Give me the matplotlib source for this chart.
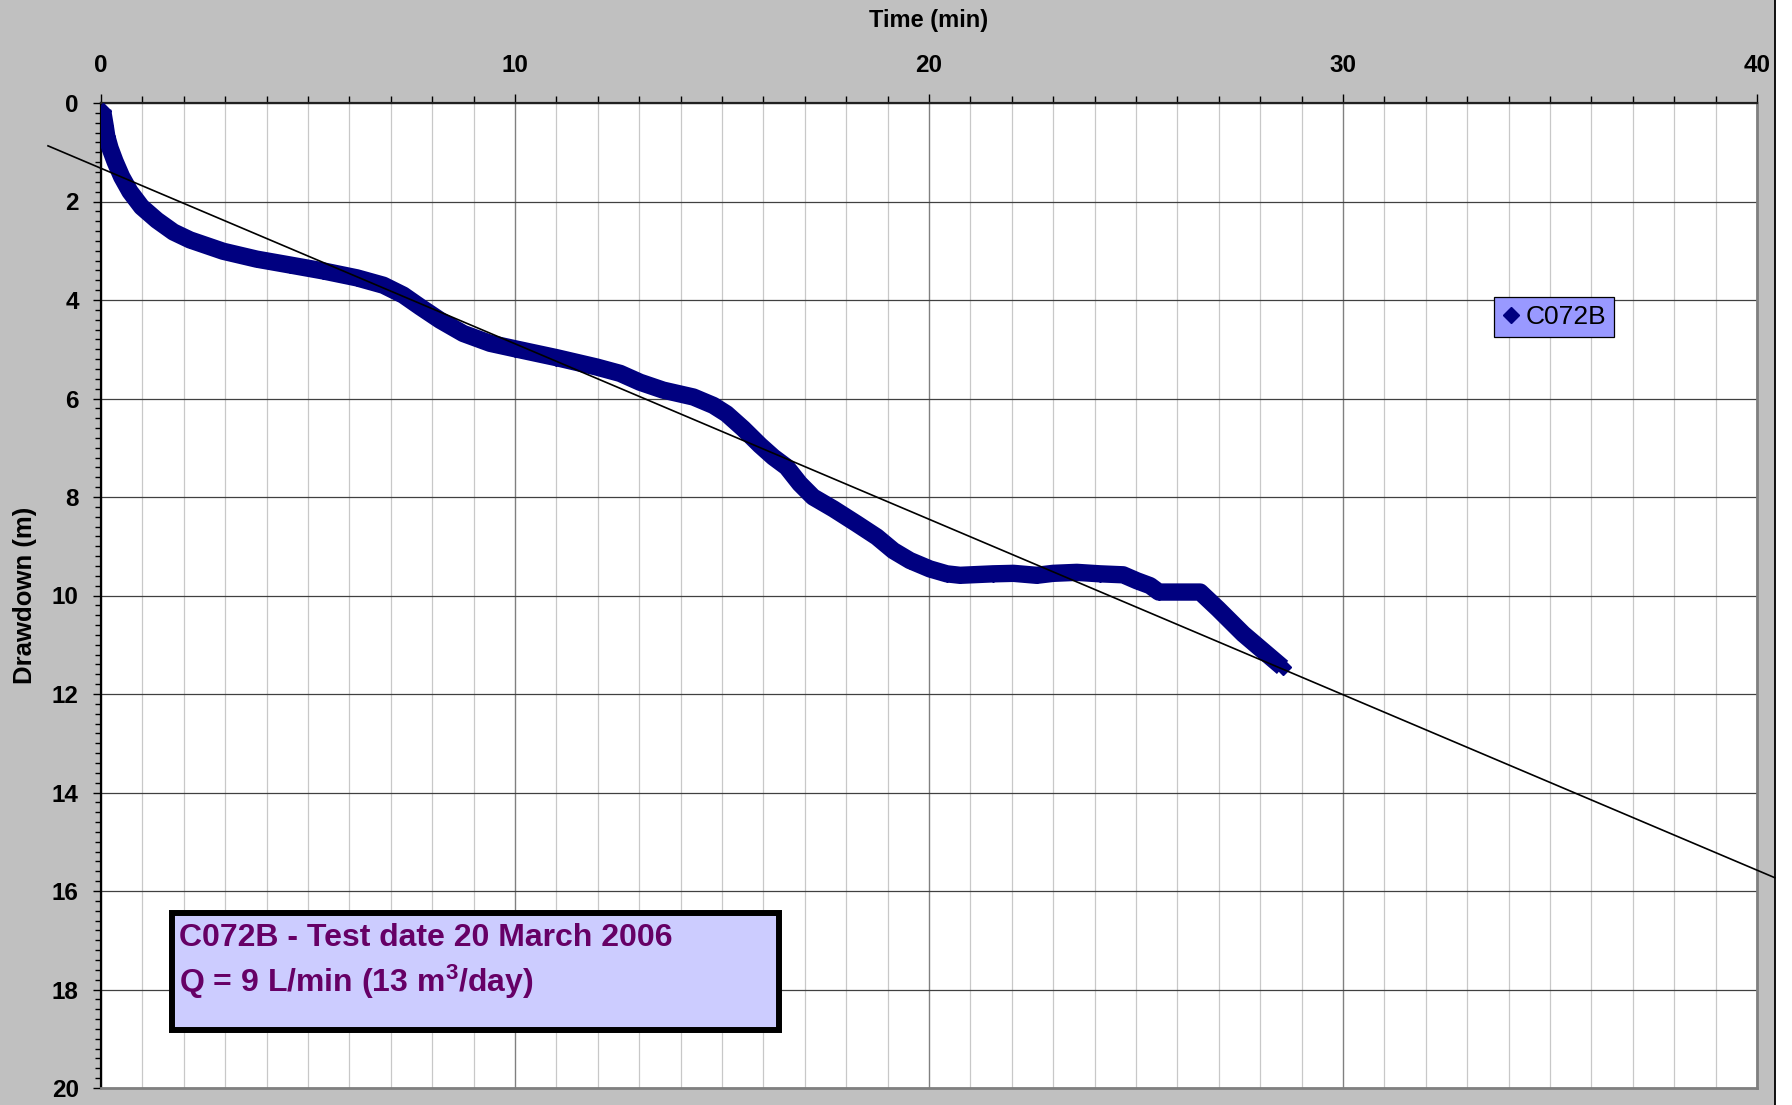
import matplotlib
matplotlib.use("Agg")
import matplotlib.pyplot as plt
from matplotlib.patches import Rectangle
from matplotlib.lines import Line2D
from matplotlib.ticker import MultipleLocator

plt.rcParams['font.family'] = ['Liberation Sans', 'DejaVu Sans']
plt.rcParams['mathtext.default'] = 'regular'

# ---- data ----
time_min = [0.04, 0.10, 0.14, 0.22, 0.34, 0.50, 0.70, 0.98, 1.35, 1.75, 2.15, 2.95,
            3.76, 4.57, 5.37, 6.18, 6.82, 7.30, 7.71, 8.19, 8.75, 9.40, 10.00, 11.00,
            11.97, 12.54, 13.02, 13.58, 14.31, 14.79, 15.11, 15.51, 15.92, 16.24, 16.56,
            16.88, 17.20, 17.69, 18.25, 18.74, 19.14, 19.54, 20.02, 20.43, 20.75, 21.55,
            22.04, 22.60, 23.00, 23.57, 24.13, 24.69, 25.02, 25.34, 25.55, 26.55, 26.98,
            27.59, 28.54]
drawdown_m = [0.16, 0.46, 0.68, 0.92, 1.19, 1.50, 1.80, 2.11, 2.38, 2.62, 2.78, 3.01,
              3.17, 3.29, 3.41, 3.55, 3.70, 3.90, 4.14, 4.41, 4.68, 4.88, 4.99, 5.17,
              5.36, 5.49, 5.67, 5.83, 5.97, 6.14, 6.31, 6.61, 6.95, 7.19, 7.39,
              7.73, 8.00, 8.24, 8.54, 8.81, 9.09, 9.29, 9.46, 9.56, 9.59, 9.56,
              9.55, 9.59, 9.55, 9.53, 9.56, 9.58, 9.70, 9.80, 9.93, 9.93, 10.27,
              10.78, 11.46]
trend_time = [-1.28, 40.43]
trend_drawdown = [0.87, 15.73]

series_label = "C072B"
x_ticks = [0, 10, 20, 30, 40]
y_ticks = [0, 2, 4, 6, 8, 10, 12, 14, 16, 18, 20]
x_title = "Time (min)"
y_title = "Drawdown (m)"
note_line1 = "C072B - Test date 20 March 2006"
note_line2 = r"Q = 9 L/min (13 m$^{3}$/day)"

# ---- figure ----
W, H = 1792, 1105
fig = plt.figure(figsize=(W / 100, H / 100), dpi=100, facecolor='white')

# gray chart area with black right border (drawn beneath the axes)
fig.patches.append(Rectangle((0, 0), 1775 / W, 1, transform=fig.transFigure,
                             facecolor='#C0C0C0', edgecolor='none', zorder=-10))
fig.lines.append(Line2D([1775 / W, 1775 / W], [0, 1], transform=fig.transFigure,
                        color='black', lw=1.3, zorder=-9))

ax = fig.add_axes([101 / W, 1 - 1088 / H, 1656 / W, 985 / H])
ax.set_facecolor('white')

navy = '#000080'
ax.plot(time_min, drawdown_m, color=navy, lw=12.5, solid_joinstyle='round',
        solid_capstyle='butt', zorder=3, label='_nolegend_')
ax.plot(time_min, drawdown_m, ls='none', marker='D', ms=8.5, color=navy,
        markeredgecolor=navy, zorder=3, label=series_label)
ax.plot(trend_time, trend_drawdown, color='black', lw=1.2, zorder=4, clip_on=False)

ax.set_xlim(0, 40)
ax.set_ylim(20, 0)

ax.xaxis.set_ticks_position('top')
ax.xaxis.set_label_position('top')
ax.set_xticks(x_ticks)
ax.set_yticks(y_ticks)
ax.xaxis.set_minor_locator(MultipleLocator(1))
ax.yaxis.set_minor_locator(MultipleLocator(0.2))

ax.tick_params(axis='x', which='major', direction='out', length=6.5, width=1.0,
               pad=12, labelsize=17.5, colors='black')
ax.tick_params(axis='x', which='minor', direction='out', length=4.8, width=1.0)
ax.tick_params(axis='y', which='major', direction='out', length=5.5, width=1.0,
               pad=10.5, labelsize=17.5)
ax.tick_params(axis='y', which='minor', direction='out', length=4.5, width=1.0)
for lbl in ax.get_xticklabels() + ax.get_yticklabels():
    lbl.set_fontweight('bold')

ax.set_xlabel(x_title, fontsize=17, fontweight='bold')
ax.xaxis.set_label_coords(0.5, 1.0775)
ax.set_ylabel(y_title, fontsize=18.5, fontweight='bold')
ax.yaxis.set_label_coords(-0.0385, 0.5)

# gridlines
ax.grid(which='minor', axis='x', color='#C8C8C8', lw=0.9, zorder=0)
ax.grid(which='major', axis='x', color='#808080', lw=1.0, zorder=0)
ax.grid(which='major', axis='y', color='#404040', lw=0.9, zorder=0)
ax.set_axisbelow(True)

# spines
ax.spines['top'].set_color('#202020')
ax.spines['top'].set_linewidth(1.6)
ax.spines['left'].set_color('black')
ax.spines['left'].set_linewidth(1.6)
ax.spines['right'].set_color('#808080')
ax.spines['right'].set_linewidth(2.0)
ax.spines['bottom'].set_color('#808080')
ax.spines['bottom'].set_linewidth(2.0)

# legend
leg = ax.legend(loc='upper left', bbox_to_anchor=(0.8412, 0.803), borderaxespad=0,
                fontsize=19, frameon=True, fancybox=False, framealpha=1,
                facecolor='#9999FF', edgecolor='black', borderpad=0.3,
                handlelength=0.7, handletextpad=0.2, numpoints=1, markerscale=0.95)
leg.get_frame().set_linewidth(0.9)
leg.set_zorder(6)

# annotation box
ax.add_patch(Rectangle((0.0429, 0.0589), 0.3665, 0.1188, transform=ax.transAxes,
                       facecolor='#CCCCFF', edgecolor='black', lw=4.3, zorder=7,
                       clip_on=False))
ax.text(0.0469, 0.1442, note_line1, transform=ax.transAxes, fontsize=23,
        fontweight='bold', color='#660066', va='baseline', ha='left', zorder=8)
ax.text(0.0469, 0.0978, note_line2, transform=ax.transAxes, fontsize=23,
        fontweight='bold', color='#660066', va='baseline', ha='left', zorder=8)

fig.savefig('out.png', dpi=100, facecolor=fig.get_facecolor())
